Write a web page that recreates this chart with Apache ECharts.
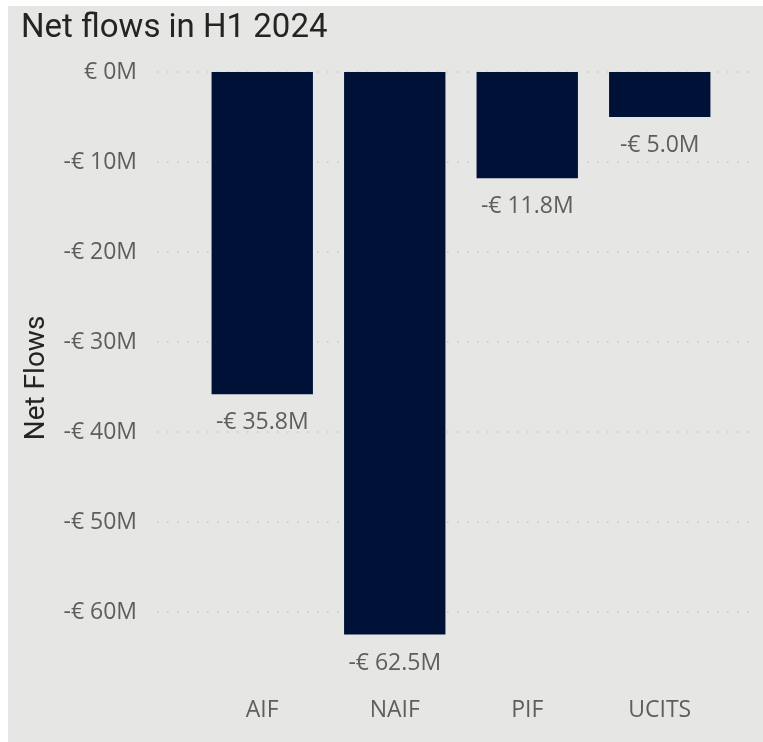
<!DOCTYPE html>
<html>
<head>
<meta charset="utf-8">
<script src="https://cdn.jsdelivr.net/npm/echarts@6/dist/echarts.min.js"></script>
<style>
  html, body { margin: 0; padding: 0; background: #ffffff; }
  #wrap { position: relative; width: 763px; height: 742px; overflow: hidden; }
  #panel { position: absolute; left: 8px; top: 6px; width: 755px; height: 736px; background: #e6e6e5; }
  #chart { position: absolute; left: 0; top: 0; width: 763px; height: 742px; }
</style>
</head>
<body>
<div id="wrap">
  <div id="panel"></div>
  <div id="chart"></div>
</div>
<script>
// Net flows per fund type, in millions of euro
const categories = ['AIF', 'NAIF', 'PIF', 'UCITS'];
const netFlows = [-35.8, -62.5, -11.8, -5.0];
const axisMin = -70;
const axisMax = 0;
const axisStep = 10;

const labelColor = '#605e5c';
const sansFont = '"Open Sans", "Noto Sans", sans-serif';

function euroTick(v) {
  if (v === 0) return '€ 0M';
  return (v < 0 ? '-€ ' : '€ ') + Math.abs(v) + 'M';
}
function euroValue(v) {
  return (v < 0 ? '-€ ' : '€ ') + Math.abs(v).toFixed(1) + 'M';
}

const chart = echarts.init(document.getElementById('chart'), null, { renderer: 'canvas' });
chart.setOption({
  backgroundColor: 'transparent',
  animation: false,
  title: {
    text: 'Net flows in H1 2024',
    left: 16,
    top: 7,
    textStyle: { fontFamily: 'Roboto, sans-serif', fontSize: 33, fontWeight: 'normal', color: '#252423' }
  },
  grid: [
    { left: 157, right: 8, top: 72, bottom: 40 },
    { left: 196, right: 37, top: 72, bottom: 40 }
  ],
  xAxis: [
    { type: 'value', gridIndex: 0, show: false, min: 0, max: 1 },
    {
      type: 'category', gridIndex: 1, data: categories,
      axisLine: { show: false }, axisTick: { show: false },
      axisLabel: { color: labelColor, fontFamily: sansFont, fontSize: 23, margin: -3 }
    }
  ],
  yAxis: [
    {
      type: 'value', gridIndex: 0, min: axisMin, max: axisMax, interval: axisStep,
      name: 'Net Flows', nameLocation: 'middle', nameGap: 106,
      nameTextStyle: { fontFamily: 'Roboto, sans-serif', fontSize: 28, fontWeight: 'normal', color: '#252423', padding: [0, 0, 0, 18] },
      axisLine: { show: false }, axisTick: { show: false },
      axisLabel: { color: labelColor, fontFamily: sansFont, fontSize: 23, margin: 20, formatter: euroTick, showMinLabel: false },
      splitLine: { show: true, showMinLine: false, lineStyle: { color: '#c8c8c6', width: 1.5, type: [1.5, 8.5] } }
    },
    { type: 'value', gridIndex: 1, min: axisMin, max: axisMax, show: false, splitLine: { show: false } }
  ],
  series: [{
    type: 'bar',
    xAxisIndex: 1,
    yAxisIndex: 1,
    data: netFlows,
    barWidth: '76.5%',
    itemStyle: { color: '#001137' },
    label: {
      show: true, position: 'bottom', distance: 17,
      color: labelColor, fontFamily: sansFont, fontSize: 23,
      formatter: p => euroValue(p.value)
    }
  }]
});
</script>
</body>
</html>
